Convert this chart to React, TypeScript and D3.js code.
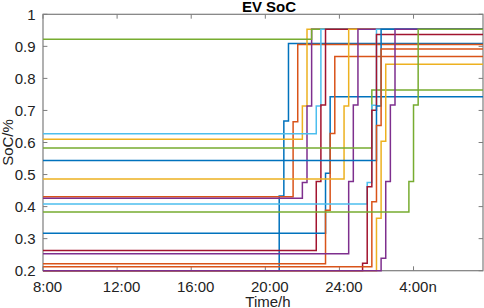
import React from "react";
import * as d3 from "d3";

// ---- data ----
const xTickValues = [8, 12, 16, 20, 24, 28];
const xTickLabels = ["8:00", "12:00", "16:00", "20:00", "24:00", "4:00n"];
const yTickValues = [0.2, 0.3, 0.4, 0.5, 0.6, 0.7, 0.8, 0.9, 1];
const yTickLabels = ["0.2", "0.3", "0.4", "0.5", "0.6", "0.7", "0.8", "0.9", "1"];

// initial SoC of each EV (held from 8:00 until charging starts)
const evInitial = [
  0.2, 0.431, 0.61, 0.426, 0.922, 0.627, 0.263,
  0.317, 0.222, 0.486, 0.253, 0.583, 0.408, 0.2,
  0.544, 0.212, 0.2, 0.2, 0.383,
];
// time (hours, 8 = 8:00, 24 = midnight) of the first charging step
const evStart = [
  20.75, 21.5, 22.0, 22.0, 22.5, 22.75, 22.75,
  23.25, 23.25, 24.25, 24.5, 25.75, 25.5, 25.25,
  26.0, 25.75, 26.0, 26.25, 27.75,
];
// SoC after each 15-minute charging step
const evLevels = [
  [0.433, 0.667, 0.909],
  [0.665, 0.906],
  [0.714, 0.953],
  [0.475, 0.714, 0.953],
  [0.953],
  [0.714, 0.953],
  [0.478, 0.717, 0.953],
  [0.504, 0.743],
  [0.389, 0.628, 0.868],
  [0.714, 0.953],
  [0.478, 0.717, 0.953],
  [0.764],
  [0.475, 0.716, 0.953],
  [0.223, 0.462, 0.701, 0.937],
  [0.714, 0.953],
  [0.415, 0.653, 0.892],
  [0.364, 0.604, 0.844],
  [0.239, 0.478, 0.717, 0.953],
  [0.478, 0.717, 0.953],
];
const stepHours = 0.25;
const xDomain = [8, 31.75];
const yDomain = [0.2, 1];

const palette = ["#0072BD", "#D95319", "#EDB120", "#7E2F8E", "#77AC30", "#4DBEEE", "#A2142F"];

const W = 484;
const H = 308;
const M = { left: 43, right: 483, top: 14.3, bottom: 270.7 };
const FONT = "'Liberation Sans', Arial, Helvetica, sans-serif";
const AXIS = "#7d7d7d";
const TXT = "#222";

export default function App() {
  const x = d3.scaleLinear().domain(xDomain).range([M.left, M.right]);
  const y = d3.scaleLinear().domain(yDomain).range([M.bottom, M.top]);
  const line = d3
    .line<[number, number]>()
    .x((d) => x(d[0]))
    .y((d) => y(d[1]))
    .curve(d3.curveStepAfter);

  const paths = evInitial.map((s0, i) => {
    const pts: [number, number][] = [[xDomain[0], s0]];
    evLevels[i].forEach((lv, k) => pts.push([evStart[i] + k * stepHours, lv]));
    pts.push([xDomain[1], evLevels[i][evLevels[i].length - 1]]);
    return line(pts) as string;
  });

  const tl = 4.4;
  const cx = (M.left + M.right) / 2 + 5;

  return (
    <svg
      width={W}
      height={H}
      style={{ position: "absolute", left: 0, top: 0, background: "#fff" }}
      fontFamily={FONT}
    >
      <rect x={0} y={0} width={W} height={H} fill="#fff" />
      {/* axes box */}
      <rect
        x={M.left}
        y={M.top}
        width={M.right - M.left}
        height={M.bottom - M.top}
        fill="none"
        stroke={AXIS}
        strokeWidth={1.2}
      />
      {xTickValues.map((t) => (
        <g key={"xt" + t}>
          <line x1={x(t)} x2={x(t)} y1={M.bottom} y2={M.bottom - tl} stroke={AXIS} />
          <line x1={x(t)} x2={x(t)} y1={M.top} y2={M.top + tl} stroke={AXIS} />
        </g>
      ))}
      {yTickValues.map((v) => (
        <g key={"yt" + v}>
          <line x1={M.left} x2={M.left + tl} y1={y(v)} y2={y(v)} stroke={AXIS} />
          <line x1={M.right} x2={M.right - tl} y1={y(v)} y2={y(v)} stroke={AXIS} />
        </g>
      ))}
      {/* series */}
      {paths.map((d, i) => (
        <path key={i} d={d} fill="none" stroke={palette[i % palette.length]} strokeWidth={1.5} />
      ))}
      {/* tick labels */}
      {xTickValues.map((t, i) => (
        <text key={"xl" + t} x={x(t) + 4.5} y={292} fontSize={15} textAnchor="middle" fill={TXT}>
          {xTickLabels[i]}
        </text>
      ))}
      {yTickValues.map((v, i) => (
        <text key={"yl" + v} x={35.5} y={y(v) + 5.3} fontSize={15} textAnchor="end" fill={TXT}>
          {yTickLabels[i]}
        </text>
      ))}
      {/* labels */}
      <text x={cx + 1} y={12} fontSize={15} fontWeight="bold" textAnchor="middle" fill="#000">
        EV SoC
      </text>
      <text x={cx} y={306.5} fontSize={15} textAnchor="middle" fill={TXT}>
        Time/h
      </text>
      <text
        transform={`translate(13,${(M.top + M.bottom) / 2}) rotate(-90)`}
        fontSize={15}
        textAnchor="middle"
        fill={TXT}
      >
        SoC/%
      </text>
    </svg>
  );
}
